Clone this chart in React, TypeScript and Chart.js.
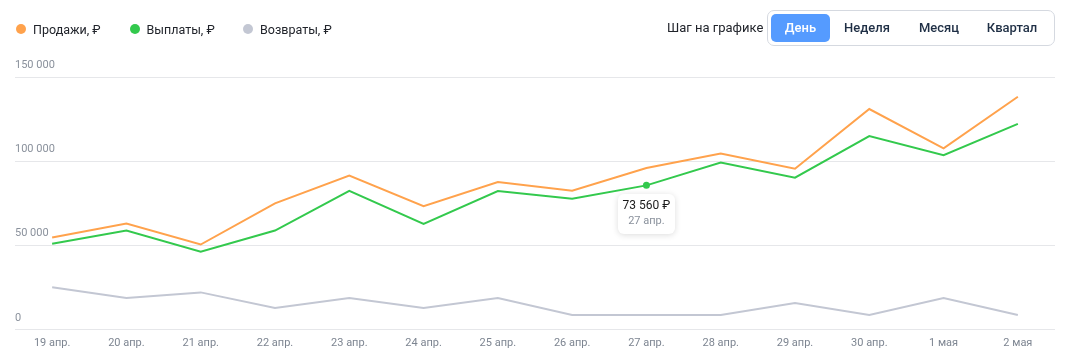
import React, { useEffect, useRef } from "react";
import { Chart, registerables } from "chart.js";

Chart.register(...registerables);

const categories = [
  "19 апр.", "20 апр.", "21 апр.", "22 апр.", "23 апр.", "24 апр.", "25 апр.",
  "26 апр.", "27 апр.", "28 апр.", "29 апр.", "30 апр.", "1 мая", "2 мая",
];
const sales = [54800, 63100, 50600, 75000, 91500, 73400, 87700, 82500, 96000, 104600, 95600, 131000, 107700, 138300];
const payouts = [51000, 58900, 46400, 58900, 82500, 62900, 82300, 77800, 85700, 99200, 90300, 114900, 103600, 122200];
const refunds = [25200, 18900, 22200, 12900, 18900, 12900, 18900, 8800, 8800, 8800, 15900, 8800, 18900, 8800];
const yTicks = [0, 50000, 100000, 150000];
const seriesNames = ["Продажи, ₽", "Выплаты, ₽", "Возвраты, ₽"];
const seriesColors = ["#ffa24c", "#33c94d", "#c3c7d3"];
const steps = ["День", "Неделя", "Месяц", "Квартал"];
const activeIndex = 8;
const tooltipValue = "73 560 ₽";

const FONT = "Roboto, 'Noto Sans', sans-serif";

function fmt(v: number) {
  return v === 0 ? "0" : v.toLocaleString("ru-RU").replace(/\s/g, " ");
}

export default function App() {
  const canvasRef = useRef<HTMLCanvasElement | null>(null);
  const tipRef = useRef<HTMLDivElement | null>(null);

  useEffect(() => {
    if (!canvasRef.current) return;
    const chart = new Chart(canvasRef.current, {
      type: "line",
      data: {
        labels: categories,
        datasets: [sales, payouts, refunds].map((d, i) => ({
          label: seriesNames[i],
          data: d,
          borderColor: seriesColors[i],
          backgroundColor: seriesColors[i],
          borderWidth: 2,
          tension: 0,
          pointRadius: (ctx: any) => (i === 1 && ctx.dataIndex === activeIndex ? 3.5 : 0),
          pointBorderWidth: 0,
          order: 3 - i,
        })),
      },
      options: {
        animation: false,
        responsive: false,
        events: [],
        layout: { padding: { top: 77, left: 15, right: 14, bottom: 4 } },
        plugins: { legend: { display: false }, tooltip: { enabled: false } },
        scales: {
          x: {
            offset: true,
            grid: { display: false, drawTicks: false },
            border: { display: false },
            ticks: {
              padding: 7,
              color: "#7d8591",
              font: { family: FONT, size: 11 },
              maxRotation: 0,
              autoSkip: false,
            },
          },
          y: {
            min: 0,
            max: 150000,
            afterBuildTicks: (s: any) => {
              s.ticks = yTicks.map((v) => ({ value: v }));
            },
            grid: { color: "#e6e7ea", lineWidth: 1, drawTicks: false },
            border: { display: false },
            ticks: {
              mirror: true,
              padding: 0,
              labelOffset: -12,
              color: "#8a919c",
              font: { family: FONT, size: 11 },
              callback: (v: any) => fmt(Number(v)),
            },
          },
        },
      },
    });
    const pt: any = chart.getDatasetMeta(1).data[activeIndex];
    if (tipRef.current && pt) {
      tipRef.current.style.left = `${pt.x - 28.5}px`;
      tipRef.current.style.top = `${pt.y + 9}px`;
      tipRef.current.style.display = "block";
    }
    return () => chart.destroy();
  }, []);

  return (
    <div style={{ position: "fixed", left: 0, top: 0, width: 1069, height: 361, background: "#fff", fontFamily: FONT }}>
      <canvas ref={canvasRef} width={1069} height={361} style={{ position: "absolute", left: 0, top: 0 }} />
      <div style={{ position: "absolute", left: 16, top: 19, height: 20, display: "flex", alignItems: "center" }}>
        {seriesNames.map((n, i) => (
          <div key={n} style={{ display: "flex", alignItems: "center", width: 113.5 }}>
            <span style={{ width: 10, height: 10, borderRadius: 5, background: seriesColors[i], display: "inline-block", marginRight: 7 }} />
            <span style={{ fontSize: 12.5, color: "#21242b" }}>{n}</span>
          </div>
        ))}
      </div>
      <div style={{ position: "absolute", left: 667, top: 18, height: 20, lineHeight: "20px", fontSize: 13, color: "#21242b" }}>
        Шаг на графике
      </div>
      <div
        style={{
          position: "absolute", left: 767, top: 10, width: 288, height: 36, boxSizing: "border-box",
          border: "1px solid #d5d9e0", borderRadius: 7, display: "flex", alignItems: "center", padding: "0 3px",
        }}
      >
        {steps.map((s, i) => (
          <div
            key={s}
            style={{
              width: [59, 74, 70, 76][i], height: 28, lineHeight: "28px", textAlign: "center", fontSize: 13, fontWeight: 500,
              borderRadius: 5, background: i === 0 ? "#559bff" : "transparent", color: i === 0 ? "#fff" : "#1f2f45",
            }}
          >
            {s}
          </div>
        ))}
      </div>
      <div
        ref={tipRef}
        style={{
          position: "absolute", display: "none", width: 57, height: 40, boxSizing: "border-box", background: "#fff",
          borderRadius: 6, boxShadow: "0 1px 6px rgba(0,0,0,0.14)", textAlign: "center", paddingTop: 4,
        }}
      >
        <div style={{ fontSize: 12, color: "#1a1a1a", lineHeight: "15px" }}>{tooltipValue}</div>
        <div style={{ fontSize: 11, color: "#8a919c", lineHeight: "16px" }}>{categories[activeIndex]}</div>
      </div>
    </div>
  );
}
